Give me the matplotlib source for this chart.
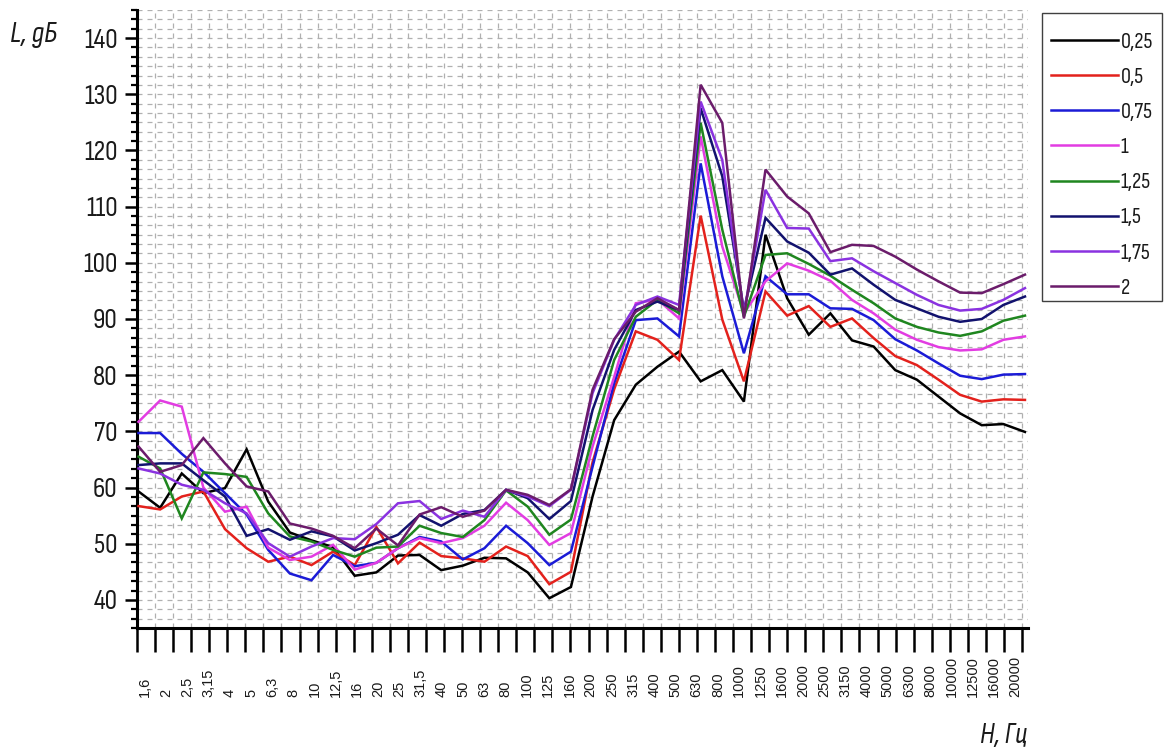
import numpy as np
import matplotlib
matplotlib.use("Agg")
import matplotlib.pyplot as plt
from matplotlib import font_manager as fm
from matplotlib.patches import Rectangle
from matplotlib.ticker import MultipleLocator, FixedLocator, NullFormatter

# ---------------- data ----------------
freq_labels = ["1,6", "2", "2,5", "3,15", "4", "5", "6,3", "8", "10", "12,5",
               "16", "20", "25", "31,5", "40", "50", "63", "80", "100", "125",
               "160", "200", "250", "315", "400", "500", "630", "800", "1000",
               "1250", "1600", "2000", "2500", "3150", "4000", "5000", "6300",
               "8000", "10000", "12500", "16000", "20000"]

series_names = ["0,25", "0,5", "0,75", "1", "1,25", "1,5", "1,75", "2"]

s_025 = [59.3, 56.4, 62.5, 59.0, 59.9, 66.8, 57.5, 52.0, 50.6, 49.4, 44.3, 44.9,
         47.9, 48.0, 45.3, 46.1, 47.5, 47.4, 44.9, 40.3, 42.3, 58.4, 72.0, 78.3,
         81.5, 84.2, 78.9, 80.9, 75.3, 105.0, 93.7, 87.2, 91.0, 86.2, 85.1, 80.9,
         79.2, 76.2, 73.2, 71.1, 71.3, 69.9]
s_05 = [56.7, 56.1, 58.4, 59.3, 52.6, 49.2, 46.8, 47.7, 46.2, 48.6, 46.2, 53.0,
        46.5, 50.2, 47.8, 47.4, 46.8, 49.5, 47.8, 42.8, 45.0, 64.5, 77.5, 87.8,
        86.3, 82.7, 108.4, 89.9, 78.9, 94.9, 90.6, 92.3, 88.6, 90.1, 86.6, 83.4,
        81.8, 79.2, 76.5, 75.3, 75.7, 75.6]
s_075 = [69.7, 69.7, 66.0, 62.8, 59.0, 55.2, 48.9, 44.7, 43.5, 48.0, 46.0, 46.6,
         49.2, 51.2, 50.4, 47.2, 49.2, 53.2, 50.1, 46.2, 48.6, 63.7, 78.6, 89.8,
         90.1, 86.9, 117.7, 97.6, 83.9, 97.6, 94.4, 94.4, 91.9, 91.8, 89.8, 86.4,
         84.4, 82.1, 79.9, 79.3, 80.1, 80.2]
s_1 = [71.7, 75.5, 74.4, 60.0, 55.7, 56.6, 49.3, 47.1, 47.7, 49.8, 45.4, 46.6,
       49.2, 51.0, 50.1, 51.0, 53.2, 57.3, 54.2, 49.8, 51.9, 67.3, 79.7, 92.8,
       93.5, 90.1, 122.5, 102.9, 91.0, 96.7, 99.9, 98.6, 96.8, 93.4, 91.0, 88.1,
       86.3, 85.0, 84.4, 84.6, 86.3, 86.9]
s_125 = [65.5, 63.4, 54.5, 62.7, 62.4, 61.9, 55.4, 51.3, 50.4, 48.9, 47.7, 49.3,
         49.5, 53.2, 51.9, 51.2, 54.2, 59.5, 56.6, 51.6, 54.3, 69.1, 82.7, 90.4,
         93.4, 91.0, 124.9, 105.9, 90.4, 101.4, 101.7, 99.8, 97.7, 95.2, 92.8, 90.1,
         88.6, 87.6, 87.0, 87.8, 89.7, 90.6]
s_15 = [64.0, 64.3, 64.3, 61.3, 58.4, 51.4, 52.6, 50.7, 52.2, 51.3, 48.8, 50.1,
        51.6, 55.1, 53.2, 55.3, 56.0, 59.6, 58.1, 54.4, 57.6, 73.8, 84.5, 91.6,
        93.1, 91.6, 127.5, 115.4, 91.6, 108.0, 103.8, 101.8, 97.9, 99.0, 96.1, 93.4,
        91.9, 90.4, 89.5, 90.0, 92.5, 94.0]
s_175 = [63.4, 62.5, 60.5, 59.6, 57.2, 55.4, 50.1, 47.7, 49.5, 51.0, 50.8, 53.5,
         57.2, 57.6, 54.4, 55.9, 54.8, 59.6, 58.4, 56.7, 59.6, 76.8, 86.3, 92.5,
         94.0, 92.5, 128.7, 118.3, 91.0, 113.0, 106.2, 106.1, 100.3, 100.8, 98.5, 96.4,
         94.3, 92.5, 91.5, 91.8, 93.4, 95.5]
s_2 = [67.3, 62.8, 64.0, 68.8, 64.3, 60.2, 59.3, 53.6, 52.7, 51.4, 49.2, 52.7,
       49.7, 55.2, 56.5, 54.8, 55.9, 59.6, 58.7, 56.9, 59.7, 77.4, 86.4, 91.3,
       93.7, 91.6, 131.7, 124.9, 90.1, 116.6, 111.8, 108.8, 101.9, 103.2, 103.0, 101.1,
       98.8, 96.7, 94.7, 94.6, 96.2, 97.9]

all_series = [s_025, s_05, s_075, s_1, s_125, s_15, s_175, s_2]
colors = ["#000000", "#e3211c", "#1b1bd6", "#e23ce2", "#1f861f",
          "#12126e", "#8a32e0", "#6b1c6b"]

# ---------------- fonts ----------------
available = {f.name for f in fm.fontManager.ttflist}


def pick(cands):
    for c in cands:
        if c in available:
            return c
    return "DejaVu Sans"


narrow = pick(["Sofia Sans Condensed", "Liberation Sans Narrow", "Roboto Condensed", "DejaVu Sans"])
regular = pick(["Liberation Sans", "Arimo", "Arial", "DejaVu Sans"])
plt.rcParams["font.family"] = [narrow, "DejaVu Sans"]

W, H = 1166, 749
fig = plt.figure(figsize=(W / 100, H / 100), dpi=100)

# axes geometry in pixels
ax_left, ax_right, ax_top, ax_bottom = 137, 1028, 10, 628
ax = fig.add_axes([ax_left / W, 1 - ax_bottom / H,
                   (ax_right - ax_left) / W, (ax_bottom - ax_top) / H])

x = np.arange(len(freq_labels))
for vals, name, c in zip(all_series, series_names, colors):
    ax.plot(x, vals, color=c, lw=1.8, label=name, solid_joinstyle="miter", zorder=3)

x_lo, x_hi = -0.07, 41.14
ax.set_xlim(x_lo, x_hi)
ax.set_ylim(35, 145)

# x ticks: dense equally spaced ticks (not aligned with labels)
ax.xaxis.set_major_locator(FixedLocator(np.linspace(x_lo, 40.865, 50)))
ax.xaxis.set_major_formatter(NullFormatter())
ax.tick_params(axis="x", which="major", length=17, width=1.8, direction="out",
               color="black")

# y ticks
ax.yaxis.set_major_locator(MultipleLocator(10))
ax.yaxis.set_minor_locator(MultipleLocator(10 / 6))
ax.set_yticks(np.arange(40, 141, 10))
ax.tick_params(axis="y", which="major", length=9, width=1.8, direction="out",
               labelsize=20, pad=5, labelcolor="#1a1a1a")
ax.tick_params(axis="y", which="minor", length=4.5, width=1.6, direction="out")

# grid
grid_kw = dict(color="#b0b0b0", lw=0.9, linestyle=(0, (4, 4)))
ax.grid(True, which="major", axis="x", **grid_kw)
ax.grid(True, which="both", axis="y", **grid_kw)
ax.set_axisbelow(True)

for side in ("top", "right"):
    ax.spines[side].set_visible(False)
for side in ("left", "bottom"):
    ax.spines[side].set_linewidth(2.2)
    ax.spines[side].set_color("black")

# category labels (rotated), positioned independently of ticks
label_y = (ax_bottom - 697) / (ax_bottom - ax_top)
trans = ax.get_xaxis_transform()
for i, lab in enumerate(freq_labels):
    ax.text(0.30 + 0.9815 * i, label_y, lab, rotation=90, ha="center", va="bottom",
            transform=trans, fontsize=10.5, family=regular, color="#1a1a1a",
            clip_on=False)

# axis titles
fig.text(10 / W, 1 - 42 / H, "L, дБ", fontsize=22, style="italic",
         ha="left", va="baseline", color="#1a1a1a")
fig.text(1027 / W, 1 - 743 / H, "H, Гц", fontsize=21, style="italic",
         ha="right", va="baseline", color="#1a1a1a")

# legend (entries) + separate frame box
leg = fig.legend(loc="upper left", bbox_to_anchor=(1042 / W, 1 - 23 / H),
                 fontsize=16, frameon=False,
                 borderpad=0.42, handlelength=3.0, handletextpad=0.12,
                 labelspacing=0.70, borderaxespad=0)
for t in leg.get_texts():
    t.set_color("#1a1a1a")
fig.patches.append(Rectangle((1042 / W, 1 - 301 / H), 120 / W, 288 / H,
                             transform=fig.transFigure, fill=False,
                             ec="#404040", lw=1.0))

fig.savefig("out.png", dpi=100)
